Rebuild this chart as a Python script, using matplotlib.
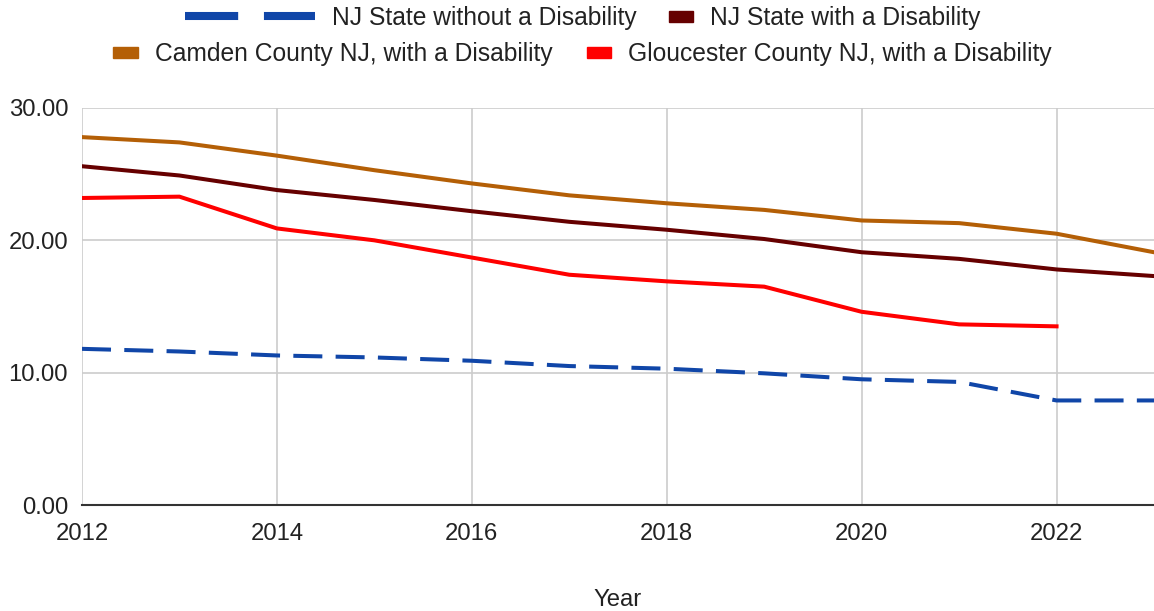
import numpy as np
import matplotlib
matplotlib.use("Agg")
import matplotlib.pyplot as plt
from matplotlib.lines import Line2D
from matplotlib.patches import Patch

plt.rcParams['font.family'] = ['Liberation Sans', 'DejaVu Sans']

years = [2012, 2013, 2014, 2015, 2016, 2017, 2018, 2019, 2020, 2021, 2022, 2023]
nj_without = [11.8, 11.6, 11.3, 11.15, 10.9, 10.5, 10.3, 9.95, 9.5, 9.3, 7.9, 7.9]
nj_with = [25.6, 24.9, 23.8, 23.05, 22.2, 21.4, 20.8, 20.1, 19.1, 18.6, 17.8, 17.3]
camden = [27.8, 27.4, 26.4, 25.3, 24.3, 23.4, 22.8, 22.3, 21.5, 21.3, 20.5, 19.1]
gloucester = [23.2, 23.3, 20.9, 20.0, 18.7, 17.4, 16.9, 16.5, 14.6, 13.65, 13.5, np.nan]

labels = ["NJ State without a Disability", "NJ State with a Disability",
          "Camden County NJ, with a Disability", "Gloucester County NJ, with a Disability"]
colors = ["#1046a8", "#660000", "#b45f06", "#ff0000"]

fs = 17.2
legend_fs = 17.7
text_color = "#222222"

fig = plt.figure(figsize=(11.54, 6.11), dpi=100)
ax = fig.add_axes([82 / 1154, 106 / 611, 1 - 82 / 1154, 397 / 611])

lw = 2.9
ax.plot(years, nj_without, color=colors[0], lw=lw, linestyle=(0, (7.2, 3.3)))
ax.plot(years, nj_with, color=colors[1], lw=lw, solid_joinstyle='round')
ax.plot(years, camden, color=colors[2], lw=lw, solid_joinstyle='round')
ax.plot(years, gloucester, color=colors[3], lw=lw, solid_joinstyle='round')

ax.set_xlim(2012, 2023)
ax.set_ylim(0, 30)
ax.set_xticks(range(2012, 2023, 2))
ax.set_yticks([0, 10, 20, 30])
ax.yaxis.set_major_formatter(matplotlib.ticker.FormatStrFormatter('%.2f'))
ax.tick_params(length=0, labelsize=fs, colors=text_color)
ax.tick_params(axis='x', pad=13)
ax.tick_params(axis='y', pad=10)
ax.grid(True, color="#cccccc", lw=1.2)
ax.set_axisbelow(True)
for side in ['top', 'right', 'left']:
    ax.spines[side].set_visible(False)
ax.spines['bottom'].set_color("#333333")
ax.spines['bottom'].set_linewidth(1.5)
ax.spines['bottom'].set_zorder(3)
ax.set_xlabel("Year", fontsize=fs, color=text_color, labelpad=32)


# legend keys laid out like the reference (flowing rows)
px = legend_fs * 100 / 72


def add_key(handle, label, x, y, hl, hh=0.7):
    fig.legend(handles=[handle], labels=[label], loc='center left',
               bbox_to_anchor=(x / 1154, 1 - y / 611), frameon=False,
               borderpad=0, borderaxespad=0, handlelength=hl, handleheight=hh,
               handletextpad=17 / px, fontsize=legend_fs, labelcolor=text_color)


dash_key = Line2D([], [], color=colors[0], lw=5.8, linestyle=(0, (6.6, 3.2)))
add_key(dash_key, labels[0], 185, 18, 130 / px)
add_key(Patch(color=colors[1]), labels[1], 669, 18, 24 / px, 8 / px)
add_key(Patch(color=colors[2]), labels[2], 113, 54, 25 / px, 8 / px)
add_key(Patch(color=colors[3]), labels[3], 587, 54, 24 / px, 8 / px)

fig.savefig("out.png", dpi=100)
